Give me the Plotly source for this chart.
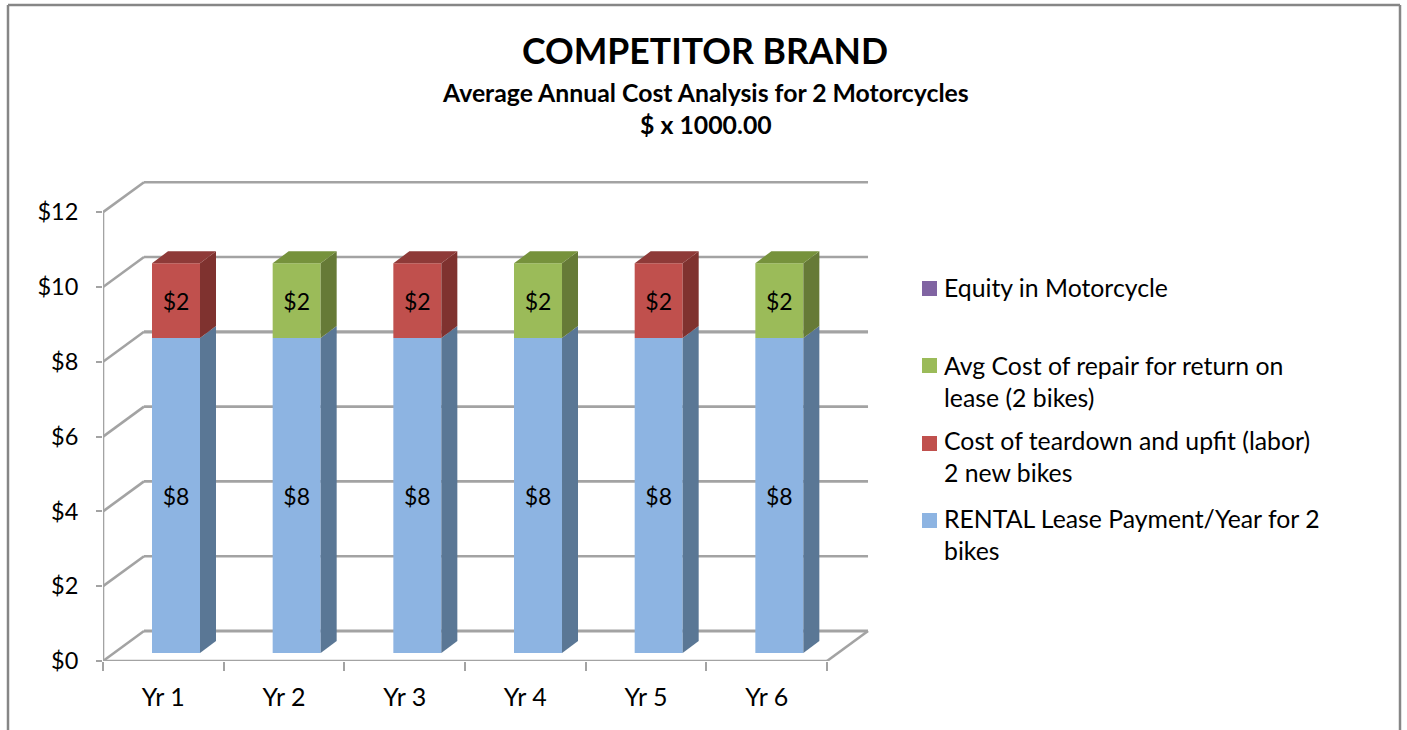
import plotly.graph_objects as go

# ---- data ----
categories = ["Yr 1", "Yr 2", "Yr 3", "Yr 4", "Yr 5", "Yr 6"]
rental = [8.42, 8.42, 8.42, 8.42, 8.42, 8.42]
teardown = [2.0, None, 2.0, None, 2.0, None]
repair = [None, 2.0, None, 2.0, None, 2.0]
equity = [None, None, None, None, None, None]
y_ticks = [0, 2, 4, 6, 8, 10, 12]
y_labels = ["$0", "$2", "$4", "$6", "$8", "$10", "$12"]

name_equity = "Equity in Motorcycle"
name_repair = "Avg Cost of repair for return on<br>lease (2 bikes)"
name_teardown = "Cost of teardown and upfit (labor)<br>2 new bikes"
name_rental = "RENTAL Lease Payment/Year for 2<br>bikes"

# ---- style ----
FONT = "Lato"
GRID = "#A3A3A3"
PX_X = 120.67   # pixels per category
PX_Y = 37.4     # pixels per dollar-thousand
W, H = 1407, 730
LEFT, RIGHT, BOTTOM, TOP = 103, 872, 661, 178
WALL_DX, WALL_DY = 41 / PX_X, 30 / PX_Y
BAR_DX, BAR_DY = 16 / PX_X, 12 / PX_Y
BAR_W = 48 / PX_X
BAR_OFF = 49 / PX_X
BASE = 8 / PX_Y

BLUE = ("#8DB4E2", "#5A7795", None)
RED = ("#C0504D", "#7F322F", "#8E3A38")
GREEN = ("#9BBB59", "#667A37", "#76923C")
PURPLE = "#8064A2"

fig = go.Figure()
centers = [i + BAR_OFF + BAR_W / 2 for i in range(len(categories))]


def add_bars(values, bases, colors, name):
    xs = [c for c, v in zip(centers, values) if v]
    fig.add_trace(go.Bar(
        x=xs, y=[v for v in values if v], base=[b for v, b in zip(values, bases) if v],
        width=BAR_W, marker=dict(color=colors[0], line=dict(width=0)), name=name,
        text=[f"${v:.0f}" for v in values if v], textposition="inside",
        insidetextanchor="middle", textangle=0,
        textfont=dict(family=FONT, size=23, color="black"),
        showlegend=False, hoverinfo="skip"))


def add_face(xs, ys, color):
    fig.add_trace(go.Scatter(x=xs, y=ys, mode="lines", fill="toself", fillcolor=color,
                             line=dict(width=0, color=color), showlegend=False, hoverinfo="skip"))


bases0 = [BASE] * len(categories)
tops0 = [b + v for b, v in zip(bases0, rental)]
add_bars(rental, bases0, BLUE, name_rental)
add_bars(teardown, tops0, RED, name_teardown)
add_bars(repair, tops0, GREEN, name_repair)

# 3-D sides and tops of each bar, derived from the values
for i, c in enumerate(centers):
    r = c + BAR_W / 2
    l = c - BAR_W / 2
    y0, y1 = bases0[i], tops0[i]
    add_face([r, r + BAR_DX, r + BAR_DX, r, r], [y0, y0 + BAR_DY, y1 + BAR_DY, y1, y0], BLUE[1])
    for vals, col in ((teardown, RED), (repair, GREEN)):
        v = vals[i]
        if v:
            y2 = y1 + v
            add_face([r, r + BAR_DX, r + BAR_DX, r, r], [y1, y1 + BAR_DY, y2 + BAR_DY, y2, y1], col[1])
            add_face([l, l + BAR_DX, r + BAR_DX, r, l], [y2, y2 + BAR_DY, y2 + BAR_DY, y2, y2], col[2])

# walls: gridlines run from the front axis to the back wall
n = len(categories)
shapes = []
annotations = []


def seg(x0, y0, x1, y1, width=2.6):
    shapes.append(dict(type="line", xref="x", yref="y", x0=x0, y0=y0, x1=x1, y1=y1,
                       line=dict(color=GRID, width=width), layer="below"))


for t in y_ticks:
    seg(0, t, WALL_DX, t + WALL_DY)
    seg(WALL_DX, t + WALL_DY, n + WALL_DX, t + WALL_DY, 3.2 if t in (0, 8) else 2.6)
seg(0, 0, 0, y_ticks[-1])
seg(0, 0, n, 0)
seg(n, 0, n + WALL_DX, WALL_DY)

# outer frame (open at the bottom of the page)
for x0, y0, x1, y1 in ((8, 0, 8, 725), (8, 725, 1400, 725), (1400, 725, 1400, 0)):
    shapes.append(dict(type="line", xref="paper", yref="paper", x0=x0 / W, x1=x1 / W,
                       y0=y0 / H, y1=y1 / H, line=dict(color="#868686", width=2.5)))

# legend: swatch on the first text line, wrapped text beside it
legend_rows = ((name_equity, PURPLE, 288.5, 287),
               (name_repair, GREEN[0], 365.5, 382),
               (name_teardown, RED[0], 443.5, 456.5),
               (name_rental, BLUE[0], 520.5, 534))
for name, color, swatch_y, text_y in legend_rows:
    shapes.append(dict(type="rect", xref="paper", yref="paper", x0=922 / W, x1=937 / W,
                       y0=1 - (swatch_y + 7.5) / H, y1=1 - (swatch_y - 7.5) / H,
                       fillcolor=color, line=dict(width=0)))
    annotations.append(dict(text=name, x=941.5 / W, y=1 - text_y / H, xref="paper", yref="paper",
                            showarrow=False, xanchor="left", yanchor="middle", align="left",
                            font=dict(family=FONT, size=24.8, color="black")))

annotations.append(dict(text="<b>Average Annual Cost Analysis for 2 Motorcycles<br>$ x 1000.00</b>",
                        x=705 / W, y=1 - 108 / H, xref="paper", yref="paper", showarrow=False,
                        xanchor="center", yanchor="middle",
                        font=dict(family=FONT, size=24.8, color="black")))

fig.update_layout(
    width=W, height=H, margin=dict(l=0, r=0, t=0, b=0), autosize=False,
    paper_bgcolor="white", plot_bgcolor="rgba(0,0,0,0)",
    barmode="overlay", shapes=shapes, annotations=annotations, showlegend=False,
    font=dict(family=FONT, color="black"),
    title=dict(text="<b>COMPETITOR BRAND</b>", x=705 / W, xanchor="center", xref="paper",
               y=1 - 52 / H, yanchor="middle", yref="paper", automargin=False,
               font=dict(family=FONT, size=35.6, color="black")),
    xaxis=dict(domain=[LEFT / W, RIGHT / W], range=[0, (RIGHT - LEFT) / PX_X], automargin=False,
               tickmode="array", tickvals=[i + 0.5 for i in range(n)], ticktext=categories,
               ticks="", showgrid=False, zeroline=False, showline=False,
               ticklabelstandoff=19, tickfont=dict(family=FONT, size=25, color="black"),
               minor=dict(tickmode="array", tickvals=list(range(n + 1)), ticks="outside",
                          ticklen=9, tickwidth=2, tickcolor=GRID, showgrid=False)),
    yaxis=dict(domain=[(H - BOTTOM) / H, (H - TOP) / H], range=[0, (BOTTOM - TOP) / PX_Y], automargin=False,
               tickmode="array", tickvals=y_ticks, ticktext=y_labels,
               ticks="outside", ticklen=6, tickwidth=2, tickcolor=GRID,
               showgrid=False, zeroline=False, showline=False, ticklabelstandoff=13,
               tickfont=dict(family=FONT, size=23.5, color="black")),
)

fig.write_html("out.html", config={"displayModeBar": False},
               post_script="document.body.style.margin='0';document.body.style.overflow='hidden';")
